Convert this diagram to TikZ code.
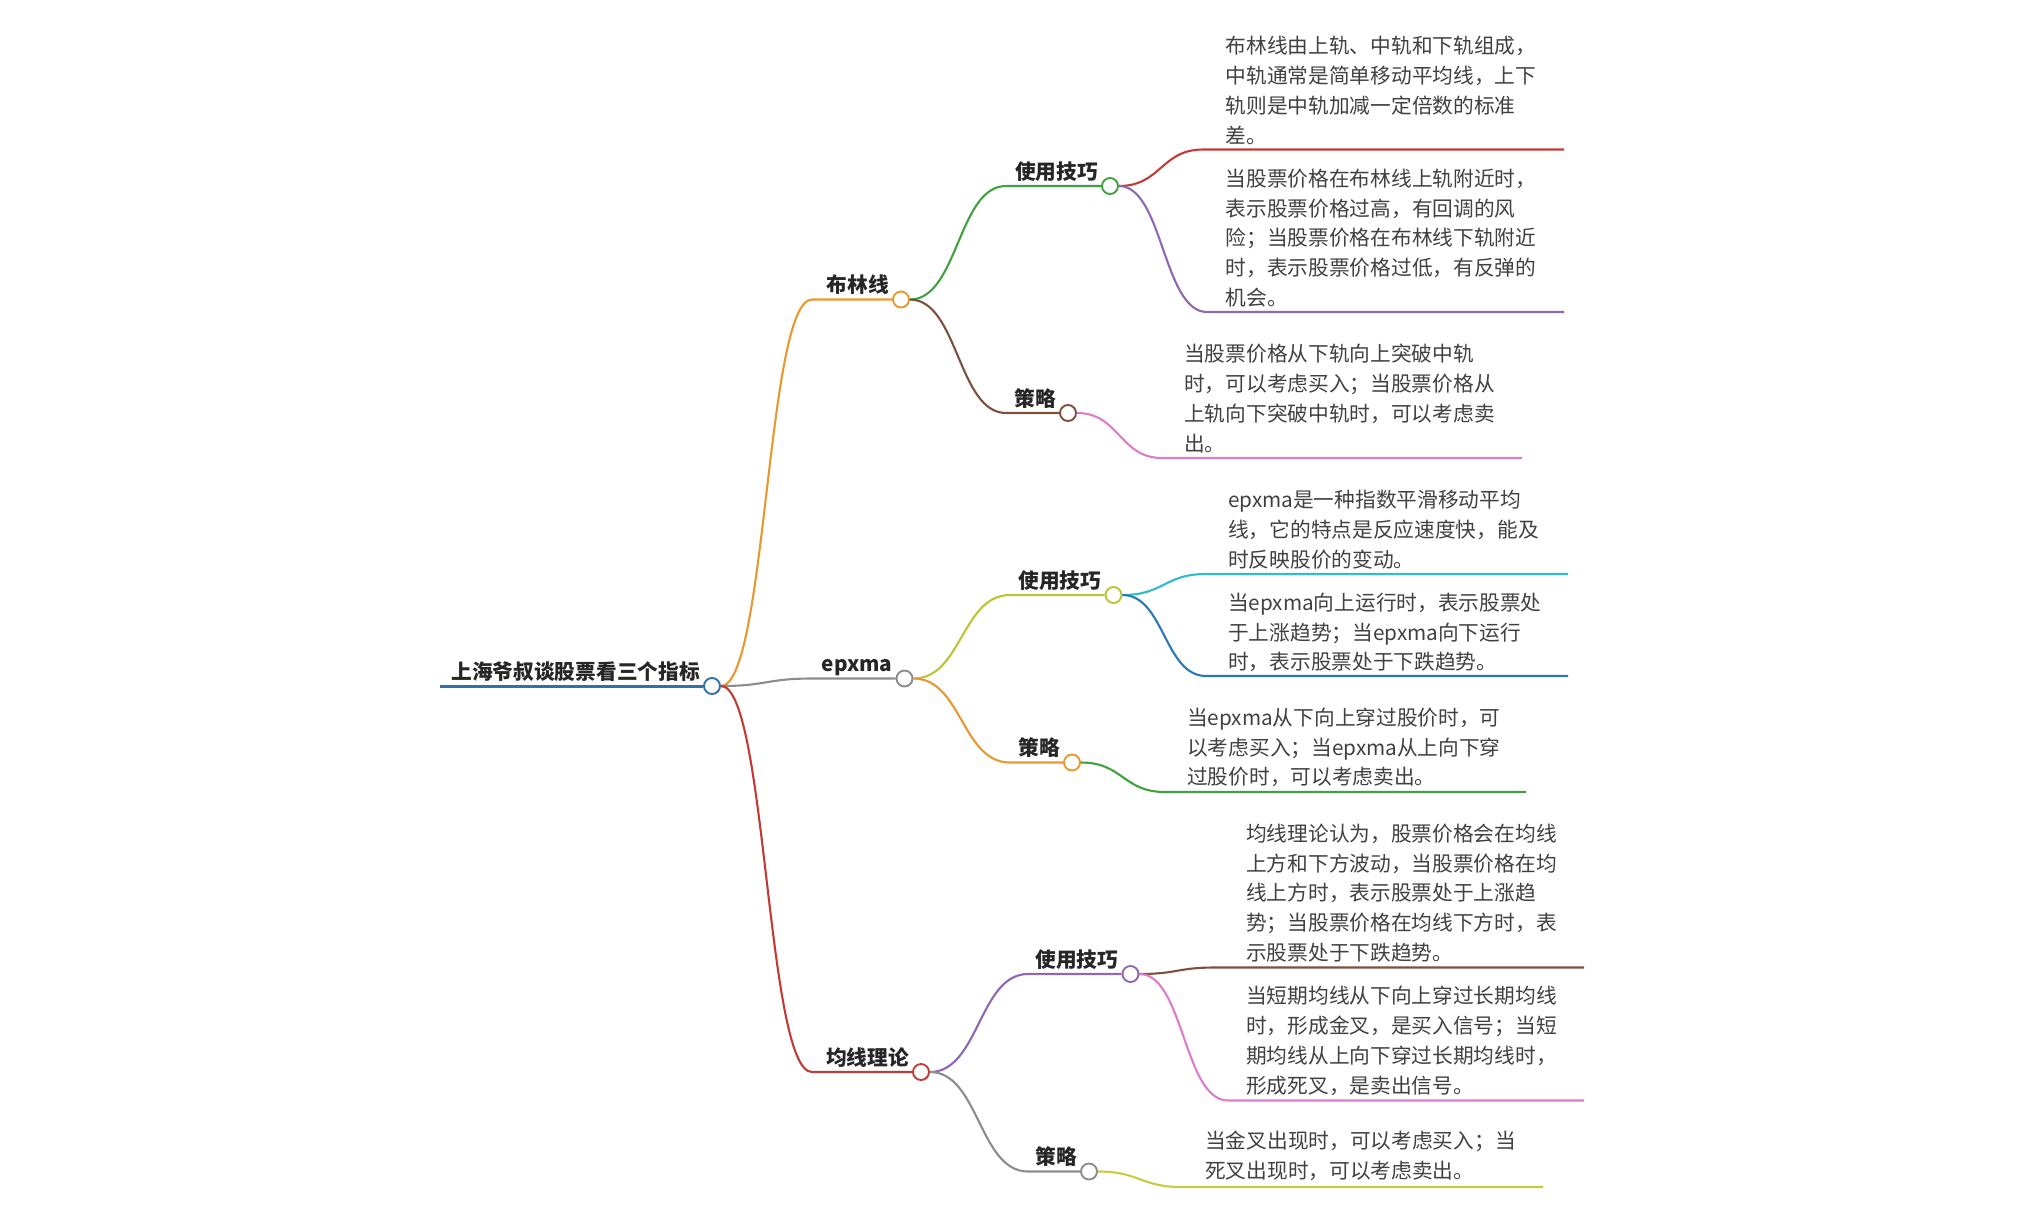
\documentclass[tikz,border=0pt]{standalone}
\usepackage{fontspec}
\usepackage{tikz}
\usepackage{xcolor}
\usetikzlibrary{calc}
\setmainfont{Noto Sans CJK SC}
\definecolor{rootblue}{HTML}{2F72A8}
\definecolor{mapgreen}{HTML}{3FA23F}
\definecolor{maporange}{HTML}{E9982F}
\definecolor{mapgray}{HTML}{8C8C8C}
\definecolor{mapred}{HTML}{C23A36}
\definecolor{mapbrown}{HTML}{7E4F3C}
\definecolor{mappurple}{HTML}{8F68B5}
\definecolor{mappink}{HTML}{DD7CC9}
\definecolor{mapolive}{HTML}{BDC433}
\definecolor{mapcyan}{HTML}{2FBCCB}
\definecolor{mapblue}{HTML}{2B78B8}
\definecolor{mapyellow}{HTML}{C9CB3F}
\tikzset{
    dot/.style = {circle, draw=#1, fill=white, line width=1.9pt, minimum size=16pt, inner sep=0pt},
    topic/.style = {font=\fontsize{20.7}{24}\selectfont\bfseries, text=black!85, anchor=east, inner sep=0pt, text height=18pt, text depth=2.5pt, xshift=-3pt, yshift=14.5pt},
    leaf/.style = {font=\fontsize{20.7}{29.8}\selectfont, text=black!75, anchor=west, align=left, inner sep=0pt},
    branch/.style = {line width=2.1pt, to path={.. controls ($(\tikztostart)!.5!(\tikztotarget|-\tikztostart)$) and ($(\tikztotarget)!.5!(\tikztostart|-\tikztotarget)$) .. (\tikztotarget)}},
}

\begin{document}
\begin{tikzpicture}[x=1pt, y=-1pt]
\useasboundingbox (0,0) rectangle (2023,1224);

% junction dots
\node[dot=rootblue] (root) at (712,686) {};
\node[dot=maporange] (bands) at (901,299.5) {};
\node[dot=mapgray] (epxma) at (904.5,678.5) {};
\node[dot=mapred] (theory) at (921,1072) {};
\node[dot=mapgreen] (bandsuse) at (1110,186) {};
\node[dot=mapbrown] (bandsplan) at (1068,413) {};
\node[dot=mapolive] (epxmause) at (1113.5,595) {};
\node[dot=maporange] (epxmaplan) at (1072,762.5) {};
\node[dot=mappurple] (theoryuse) at (1130.5,974) {};
\node[dot=mapgray] (theoryplan) at (1089,1171.5) {};

% labels
\node[topic] (rootlabel) at (root.west) {上海爷叔谈股票看三个指标};
\node[topic] (bandslabel) at (bands.west) {布林线};
\node[topic] (epxmalabel) at (epxma.west) {epxma};
\node[topic] (theorylabel) at (theory.west) {均线理论};
\node[topic] (bandsuselabel) at (bandsuse.west) {使用技巧};
\node[topic] (bandsplanlabel) at (bandsplan.west) {策略};
\node[topic] (epxmauselabel) at (epxmause.west) {使用技巧};
\node[topic] (epxmaplanlabel) at (epxmaplan.west) {策略};
\node[topic] (theoryuselabel) at (theoryuse.west) {使用技巧};
\node[topic] (theoryplanlabel) at (theoryplan.west) {策略};

% texts
\node[leaf] (text1) at (1225.5,90.5) {布林线由上轨、中轨和下轨组成，\\中轨通常是简单移动平均线，上下\\轨则是中轨加减一定倍数的标准\\差。};
\node[leaf] (text2) at (1225.5,238) {当股票价格在布林线上轨附近时，\\表示股票价格过高，有回调的风\\险；当股票价格在布林线下轨附近\\时，表示股票价格过低，有反弹的\\机会。};
\node[leaf] (text3) at (1184,398.5) {当股票价格从下轨向上突破中轨\\时，可以考虑买入；当股票价格从\\上轨向下突破中轨时，可以考虑卖\\出。};
\node[leaf] (text4) at (1228,529.5) {epxma是一种指数平滑移动平均\\线，它的特点是反应速度快，能及\\时反映股价的变动。};
\node[leaf] (text5) at (1228,632.5) {当epxma向上运行时，表示股票处\\于上涨趋势；当epxma向下运行\\时，表示股票处于下跌趋势。};
\node[leaf] (text6) at (1187,747.5) {当epxma从下向上穿过股价时，可\\以考虑买入；当epxma从上向下穿\\过股价时，可以考虑卖出。};
\node[leaf] (text7) at (1246,893) {均线理论认为，股票价格会在均线\\上方和下方波动，当股票价格在均\\线上方时，表示股票处于上涨趋\\势；当股票价格在均线下方时，表\\示股票处于下跌趋势。};
\node[leaf] (text8) at (1246,1041) {当短期均线从下向上穿过长期均线\\时，形成金叉，是买入信号；当短\\期均线从上向下穿过长期均线时，\\形成死叉，是卖出信号。};
\node[leaf] (text9) at (1205,1156) {当金叉出现时，可以考虑买入；当\\死叉出现时，可以考虑卖出。};

% bends and line ends
\coordinate (rootstart) at (440,686);
\coordinate (bandsbend) at (812,299.5);
\coordinate (epxmabend) at (812,678.5);
\coordinate (theorybend) at (812,1072);
\coordinate (bandsusebend) at (1006,186);
\coordinate (bandsplanbend) at (1006,413);
\coordinate (epxmausebend) at (1010,595);
\coordinate (epxmaplanbend) at (1010,762.5);
\coordinate (theoryusebend) at (1028,974);
\coordinate (theoryplanbend) at (1028,1171.5);
\coordinate (textbend1) at (1203,149.5);
\coordinate (textend1) at (1564,149.5);
\coordinate (textbend2) at (1207,312);
\coordinate (textend2) at (1564,312);
\coordinate (textbend3) at (1162,458);
\coordinate (textend3) at (1522,458);
\coordinate (textbend4) at (1206,574);
\coordinate (textend4) at (1568,574);
\coordinate (textbend5) at (1206,676);
\coordinate (textend5) at (1568,676);
\coordinate (textbend6) at (1165,792);
\coordinate (textend6) at (1526,792);
\coordinate (textbend7) at (1215,967.5);
\coordinate (textend7) at (1584,967.5);
\coordinate (textbend8) at (1228,1100.5);
\coordinate (textend8) at (1584,1100.5);
\coordinate (textbend9) at (1182,1187);
\coordinate (textend9) at (1543,1187);

% connectors
\draw[rootblue, line width=3pt] (rootstart) -- (root);
\draw[branch, maporange] (root.east) to (bandsbend) -- (bands.west);
\draw[branch, mapgray] (root.east) to (epxmabend) -- (epxma.west);
\draw[branch, mapred] (root.east) to (theorybend) -- (theory.west);
\draw[branch, mapgreen] (bands.east) to (bandsusebend) -- (bandsuse.west);
\draw[branch, mapbrown] (bands.east) to (bandsplanbend) -- (bandsplan.west);
\draw[branch, mapolive] (epxma.east) to (epxmausebend) -- (epxmause.west);
\draw[branch, maporange] (epxma.east) to (epxmaplanbend) -- (epxmaplan.west);
\draw[branch, mappurple] (theory.east) to (theoryusebend) -- (theoryuse.west);
\draw[branch, mapgray] (theory.east) to (theoryplanbend) -- (theoryplan.west);
\draw[branch, mapred] (bandsuse.east) to (textbend1) -- (textend1);
\draw[branch, mappurple] (bandsuse.east) to (textbend2) -- (textend2);
\draw[branch, mappink] (bandsplan.east) to (textbend3) -- (textend3);
\draw[branch, mapcyan] (epxmause.east) to (textbend4) -- (textend4);
\draw[branch, mapblue] (epxmause.east) to (textbend5) -- (textend5);
\draw[branch, mapgreen] (epxmaplan.east) to (textbend6) -- (textend6);
\draw[branch, mapbrown] (theoryuse.east) to (textbend7) -- (textend7);
\draw[branch, mappink] (theoryuse.east) to (textbend8) -- (textend8);
\draw[branch, mapyellow] (theoryplan.east) to (textbend9) -- (textend9);
\end{tikzpicture}
\end{document}
